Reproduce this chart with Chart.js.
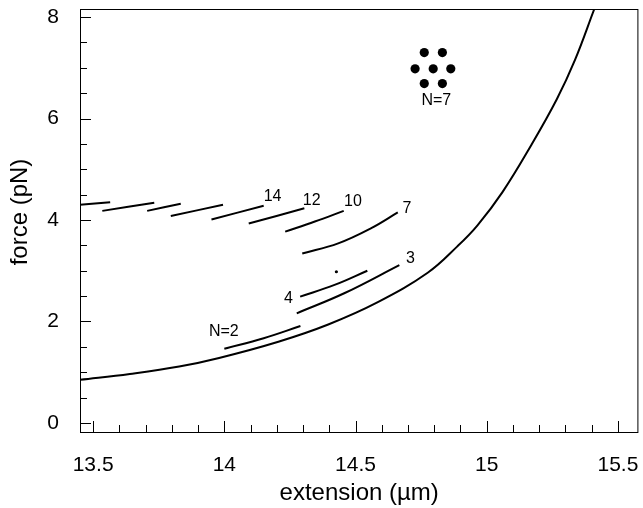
<!DOCTYPE html>
<html><head><meta charset="utf-8">
<script src="https://cdn.jsdelivr.net/npm/chart.js@4.4.0/dist/chart.umd.min.js"></script>
<style>html,body{margin:0;padding:0;background:#fff;}</style>
</head><body>
<canvas id="c" width="643" height="508" style="display:block;width:643px;height:508px"></canvas>
<script>
// ---- tick labels ----
const xTicks = [13.5, 14, 14.5, 15, 15.5];
const yTicks = [0, 2, 4, 6, 8];
const xTitle = 'extension (µm)';
const yTitle = 'force (pN)';

// ---- main (single-molecule) curve ----
const mainX = [13.45, 13.64, 13.828, 13.98, 14.206, 14.396, 14.585, 14.775, 14.888, 14.964, 15.06, 15.17, 15.267, 15.336, 15.41];
const mainY = [0.85, 0.965, 1.11, 1.28, 1.60, 1.94, 2.38, 2.96, 3.48, 3.89, 4.55, 5.48, 6.38, 7.15, 8.16];

// ---- bundle segments (N = number of filaments) ----
const segAX = [13.449, 13.565];            const segAY = [4.30, 4.35];
const segBX = [13.535, 13.733];            const segBY = [4.18, 4.34];
const segCX = [13.706, 13.834];            const segCY = [4.18, 4.32];
const segDX = [13.796, 13.995];            const segDY = [4.08, 4.30];
const seg14X = [13.951, 14.15];            const seg14Y = [4.01, 4.28];
const seg12X = [14.093, 14.305];           const seg12Y = [3.93, 4.23];
const seg10X = [14.232, 14.345, 14.455];   const seg10Y = [3.77, 3.97, 4.18];
const seg7X = [14.297, 14.434, 14.56, 14.661]; const seg7Y = [3.34, 3.54, 3.84, 4.15];
const seg4X = [14.289, 14.42, 14.545];     const seg4Y = [2.49, 2.72, 3.00];
const seg3X = [14.276, 14.459, 14.667];    const seg3Y = [2.16, 2.56, 3.11];
const seg2X = [14.0, 14.15, 14.29];        const seg2Y = [1.46, 1.67, 1.91];

// ---- stray point ----
const dotX = [14.427]; const dotY = [2.98];

// ---- N=7 hexagonal cross-section symbol ----
const hexX = [14.762, 14.831, 14.727, 14.796, 14.863, 14.762, 14.831];
const hexY = [7.30, 7.30, 6.98, 6.98, 6.98, 6.69, 6.69];

// ---- text annotations ----
const noteText = ['14', '12', '10', '7', '3', '4', 'N=2', 'N=7'];
const noteX = [14.184, 14.333, 14.490, 14.696, 14.709, 14.244, 13.998, 14.808];
const noteY = [4.47, 4.39, 4.36, 4.23, 3.23, 2.46, 1.80, 6.36];

const FONT = '"Liberation Sans", Arial, sans-serif';
const zip = (xs, ys) => xs.map((x, i) => ({x, y: ys[i]}));
const lineDs = (xs, ys, t) => ({
  data: zip(xs, ys), showLine: true, borderColor: '#000', borderWidth: 2,
  pointRadius: 0, fill: false, clip: 0,
  cubicInterpolationMode: 'default', tension: t
});

const datasets = [
  lineDs(mainX, mainY, 0.4),
  lineDs(segAX, segAY, 0.4), lineDs(segBX, segBY, 0.4), lineDs(segCX, segCY, 0.4), lineDs(segDX, segDY, 0.4),
  lineDs(seg14X, seg14Y, 0.4), lineDs(seg12X, seg12Y, 0.4), lineDs(seg10X, seg10Y, 0.4),
  lineDs(seg7X, seg7Y, 0.4), lineDs(seg4X, seg4Y, 0.4), lineDs(seg3X, seg3Y, 0.4), lineDs(seg2X, seg2Y, 0.4),
  {data: zip(dotX, dotY), showLine: false, pointRadius: 1.6, pointBackgroundColor: '#000', pointBorderWidth: 0, clip: 0},
  {data: zip(hexX, hexY), showLine: false, pointRadius: 4.6, pointBackgroundColor: '#000', pointBorderWidth: 0, clip: 0}
];

const frameTicks = {
  id: 'frameTicks',
  afterDraw(chart) {
    const {ctx, chartArea: a, scales: {x, y}} = chart;
    ctx.save();
    ctx.strokeStyle = '#000';
    ctx.lineWidth = 1;
    ctx.strokeRect(a.left + 0.5, a.top + 0.5, a.right - a.left - 1, a.bottom - a.top);
    ctx.beginPath();
    for (let i = 135; i <= 155; i++) {
      const px = Math.round(x.getPixelForValue(i / 10)) + 0.5;
      const len = (i % 5 === 0) ? 11 : 7;
      ctx.moveTo(px, a.bottom); ctx.lineTo(px, a.bottom - len);
    }
    for (let j = 0; j <= 16; j++) {
      const py = Math.round(y.getPixelForValue(j / 2)) + 0.5;
      const len = (j % 4 === 0) ? 11 : 7;
      ctx.moveTo(a.left, py); ctx.lineTo(a.left + len, py);
    }
    ctx.stroke();
    ctx.fillStyle = '#000';
    ctx.font = '16px ' + FONT;
    ctx.textAlign = 'center';
    ctx.textBaseline = 'middle';
    noteText.forEach((t, i) => {
      ctx.fillText(t, x.getPixelForValue(noteX[i]), y.getPixelForValue(noteY[i]));
    });
    // y-axis title
    ctx.font = '24px ' + FONT;
    ctx.translate(20, 212);
    ctx.rotate(-Math.PI / 2);
    ctx.fillText(yTitle, 0, 0);
    ctx.restore();
  }
};

new Chart(document.getElementById('c'), {
  type: 'scatter',
  data: {datasets},
  options: {
    responsive: false, animation: false, devicePixelRatio: 1,
    layout: {padding: {top: 9, right: 2, left: 0, bottom: 0}},
    plugins: {legend: {display: false}, tooltip: {enabled: false}},
    scales: {
      x: {
        type: 'linear', min: 13.45, max: 15.578,
        afterBuildTicks: s => { s.ticks = xTicks.map(v => ({value: v})); },
        afterFit: s => { s.height = 76; s.paddingLeft = 0; s.paddingRight = 0; },
        grid: {display: false}, border: {display: false},
        ticks: {color: '#000', padding: 13, maxRotation: 0, autoSkip: false,
          font: {family: FONT, size: 21},
          callback: v => String(v)},
        title: {display: true, text: xTitle, color: '#000',
          font: {family: FONT, size: 24},
          padding: {top: 0, bottom: 0}}
      },
      y: {
        type: 'linear', min: -0.18, max: 8.16,
        afterBuildTicks: s => { s.ticks = yTicks.map(v => ({value: v})); },
        afterFit: s => { s.width = 80; s.paddingTop = 0; s.paddingBottom = 0; },
        grid: {display: false}, border: {display: false},
        ticks: {color: '#000', padding: 13, autoSkip: false,
          font: {family: FONT, size: 21},
          callback: v => String(v)},
        title: {display: false}
      }
    }
  },
  plugins: [frameTicks]
});
</script>
</body></html>
